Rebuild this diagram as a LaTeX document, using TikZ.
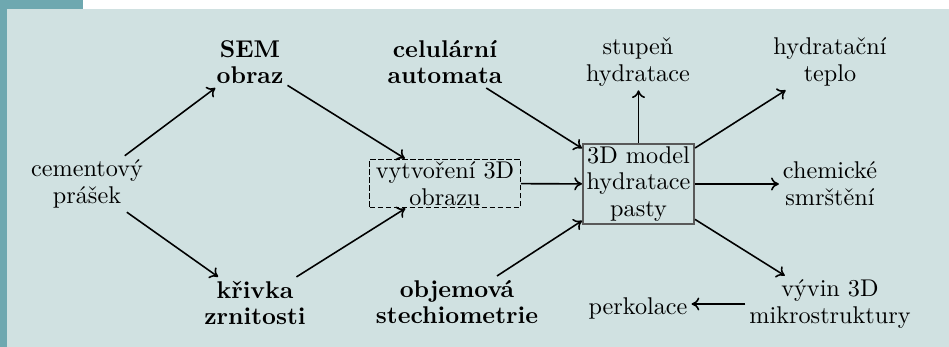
\documentclass[tikz,border=0pt]{standalone}
\usetikzlibrary{arrows.meta}
\definecolor{panel}{HTML}{D0E1E1}
\definecolor{frame}{HTML}{6EA8B0}
\begin{document}
\begin{tikzpicture}[x=0.413pt,y=-0.413pt,
  lbl/.style={align=center,inner sep=1.5pt,font=\fontsize{10}{11}\selectfont},
  bold/.style={lbl,font=\fontsize{10}{11}\selectfont\bfseries},
  conn/.style={-{Computer Modern Rightarrow[length=3.2pt,width=5.4pt]},line width=0.65pt},
  dashbox/.style={lbl,draw,line width=0.55pt,dash pattern=on 2.2pt off 1.1pt,inner xsep=2.5pt,inner ysep=1pt},
  modelbox/.style={lbl,draw=black!65,line width=0.85pt,inner xsep=1.5pt,inner ysep=1pt}]
% page background and frame strips
\useasboundingbox (0,0) rectangle (949,347);
\fill[white] (0,0) rectangle (949,347);
\fill[frame] (0,0) rectangle (83,9);
\fill[frame] (0,0) rectangle (7,347);
\fill[panel] (7,9) rectangle (949,347);

% inputs
\node[lbl]  (cem)  at (87,184)  {cementový\\prášek};
\node[bold] (sem)  at (250,62)  {SEM\\obraz};
\node[bold] (kriv) at (255,303) {křivka\\zrnitosti};
\node[dashbox] (vyt) at (445,183.5) {vytvoření 3D\\obrazu};
\node[bold] (cel)  at (445,62)  {celulární\\automata};
\node[bold] (obj)  at (457,302) {objemová\\stechiometrie};

% model
\node[modelbox] (mod) at (638.5,184) {3D model\\hydratace\\pasty};

% outputs
\node[lbl] (stu)  at (638,62)  {stupeň\\hydratace};
\node[lbl] (tep)  at (830,62)  {hydratační\\teplo};
\node[lbl] (smr)  at (830,184) {chemické\\smrštění};
\node[lbl] (viv)  at (830,304) {vývin 3D\\mikrostruktury};
\node[lbl] (perk) at (638,308) {perkolace};

% connectors
\draw[conn] (cem) -- (sem);
\draw[conn] (cem) -- (kriv);
\draw[conn] (sem) -- (vyt);
\draw[conn] (kriv) -- (vyt);
\draw[conn] (cel) -- (mod);
\draw[conn] (vyt) -- (mod);
\draw[conn] (obj) -- (mod);
\draw[conn] (mod.north) -- (mod.north |- stu.south);
\draw[conn] (mod) -- (tep);
\draw[conn] (mod) -- (smr);
\draw[conn] (mod) -- (viv);
\draw[conn] (viv.west) -- (viv.west -| perk.east);
\end{tikzpicture}
\end{document}
